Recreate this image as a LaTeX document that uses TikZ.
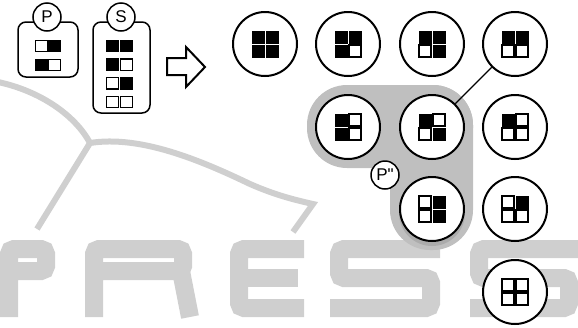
\documentclass[tikz,border=0pt]{standalone}
\usepackage{fontspec}
\newfontfamily\lblfont{Liberation Sans}
\newcommand\cellsq[4]{\draw[cell#4] (#1-#3,#2-#3) rectangle (#1+#3,#2+#3);}
\newcommand\qgrid[6]{\cellsq{#1-7}{#2-7}{6}{#3}\cellsq{#1+7}{#2-7}{6}{#4}\cellsq{#1-7}{#2+7}{6}{#5}\cellsq{#1+7}{#2+7}{6}{#6}}
\begin{document}
\begin{tikzpicture}[x=1pt,y=-1pt,
  ring/.style={circle,draw=black,line width=2pt,fill=white,minimum size=64pt,inner sep=0pt},
  tag/.style={circle,draw=black,line width=1.5pt,fill=white,minimum size=28pt,inner sep=0pt,font=\lblfont\fontsize{17}{17}\selectfont},
  box/.style={draw=black,line width=1.5pt,rounded corners=8pt,fill=white,inner sep=0pt,outer sep=0pt},
  cell1/.style={fill=black,draw=black,line width=1pt},
  cell0/.style={fill=white,draw=black,line width=1.2pt},
  wm/.style={draw=black!19,line width=18pt,rounded corners=5pt},
  swoosh/.style={draw=black!19,line width=6pt},
  region/.style={fill=black!25},
  link/.style={draw=black,line width=1.3pt}]
\useasboundingbox (0,0) rectangle (578,327);
% watermark
\begin{scope}
\clip (0,0) rectangle (578,327);
\draw[wm] (9,317) -- (9,249) -- (46,249) -- (46,271) -- (0,271);
\draw[wm] (94,317) -- (94,249) -- (183,249) -- (183,271) -- (94,271);
\draw[wm,rounded corners=0pt] (181,271) -- (190,317);
\draw[wm] (304,249) -- (239,249) -- (239,308) -- (304,308);
\draw[wm] (239,278) -- (298,278);
\draw[wm] (440,249) -- (339,249) -- (339,278) -- (431,278) -- (431,308) -- (330,308);
\draw[wm] (600,249) -- (479,249) -- (479,278) -- (569,278) -- (569,308) -- (470,308);
\draw[swoosh] (-2,82) .. controls (40,91) and (75,115) .. (90,143);
\draw[swoosh] (90,143) .. controls (140,135) and (200,160) .. (250,184) .. controls (275,195) and (295,200) .. (313,204) -- (293,232);
\draw[swoosh] (90,143) -- (37,229);
\end{scope}
% grey region
\fill[region,rounded corners=40pt] (307,85) rectangle (473,168);
\fill[region,rounded corners=40pt] (390,85) rectangle (473,250);
\fill[black!33] (432,213) circle (33pt);
% circles
\node[ring] (r11) at (265,44) {};
\node[ring] (r12) at (348,44) {};
\node[ring] (r13) at (432,44) {};
\node[ring] (r14) at (515,44) {};
\node[ring] (r22) at (348,127) {};
\node[ring] (r23) at (432,127) {};
\node[ring] (r24) at (515,127) {};
\node[ring] (r33) at (432,209) {};
\node[ring] (r34) at (515,209) {};
\node[ring] (r44) at (515,292) {};
\draw[link] (r14) -- (r23);
\qgrid{265}{44}{1}{1}{1}{1}
\qgrid{348}{44}{1}{1}{1}{0}
\qgrid{432}{44}{1}{1}{0}{1}
\qgrid{515}{44}{1}{1}{0}{0}
\qgrid{348}{127}{1}{0}{1}{0}
\qgrid{432}{127}{1}{0}{0}{1}
\qgrid{515}{127}{1}{0}{0}{0}
\qgrid{432}{209}{0}{1}{0}{1}
\qgrid{515}{209}{0}{1}{0}{0}
\qgrid{515}{292}{0}{0}{0}{0}
\node[tag] (pdd) at (385,175) {P"};
% boxes
\node[box,minimum width=60pt,minimum height=55pt] (pbox) at (48,49.5) {};
\node[box,minimum width=57pt,minimum height=91pt] (sbox) at (121.5,67.5) {};
\node[tag] (ptag) at (47,17) {P};
\node[tag] (stag) at (121,17) {S};
\cellsq{41.5}{46}{5.75}{0}\cellsq{54.5}{46}{5.75}{1}
\cellsq{41.5}{65}{5.75}{1}\cellsq{54.5}{65}{5.75}{0}
\cellsq{112.5}{46}{5.75}{1}\cellsq{126.5}{46}{5.75}{1}
\cellsq{112.5}{64.7}{5.75}{1}\cellsq{126.5}{64.7}{5.75}{0}
\cellsq{112.5}{83.3}{5.75}{0}\cellsq{126.5}{83.3}{5.75}{1}
\cellsq{112.5}{102}{5.75}{0}\cellsq{126.5}{102}{5.75}{0}
% block arrow
\draw[line width=2pt,line join=miter] (167,58) -- (186,58) -- (186,47) -- (205,67) -- (186,87) -- (186,75) -- (167,75) -- cycle;
\end{tikzpicture}
\end{document}
